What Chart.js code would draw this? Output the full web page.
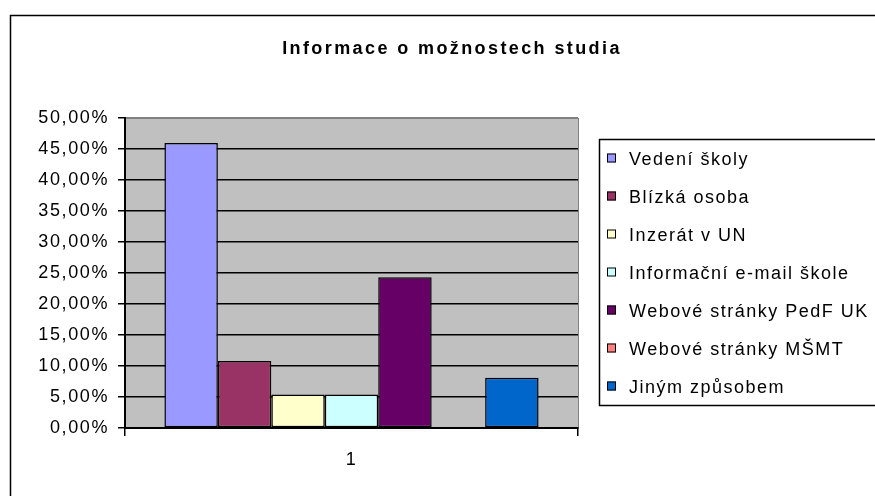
<!DOCTYPE html>
<html><head><meta charset="utf-8">
<script src="https://cdn.jsdelivr.net/npm/chart.js@4"></script>
<style>html,body{margin:0;padding:0;background:#fff}canvas{display:block}</style>
</head><body>
<canvas id="c" width="875" height="496"></canvas>
<script>
const chartTitle = 'Informace o možnostech studia';
const categories = ['1'];
const seriesNames = ['Vedení školy','Blízká osoba','Inzerát v UN','Informační e-mail škole','Webové stránky PedF UK','Webové stránky MŠMT','Jiným způsobem'];
const seriesValues = [45.95, 10.81, 5.41, 5.41, 24.32, 0, 8.11];
const seriesColors = ['#9999FF','#993366','#FFFFCC','#CCFFFF','#660066','#FF8080','#0066CC'];
const yTicks = [0, 5, 10, 15, 20, 25, 30, 35, 40, 45, 50];

const FAMILY = "'Liberation Sans', Arial, sans-serif";
const fmt = v => v.toFixed(2).replace('.', ',') + '%';

const frame = {
  id: 'frame',
  beforeDraw(chart) {
    const {ctx, chartArea: a} = chart;
    ctx.save();
    ctx.fillStyle = '#fff';
    ctx.fillRect(0, 0, chart.width, chart.height);
    ctx.strokeStyle = '#000';
    ctx.lineWidth = 1.5;
    ctx.strokeRect(10.5, 15.5, 1000, 1000);
    ctx.fillStyle = '#C0C0C0';
    ctx.fillRect(a.left, a.top, a.right - a.left, a.bottom - a.top);
    ctx.strokeStyle = '#808080';
    ctx.lineWidth = 1;
    ctx.strokeRect(a.left + 0.5, a.top + 0.5, a.right - a.left, a.bottom - a.top);
    ctx.restore();
    ctx.letterSpacing = '1.6px';
  },
  afterDraw(chart) {
    const {ctx, chartArea: a} = chart;
    ctx.save();
    // title
    ctx.letterSpacing = '2.4px';
    ctx.font = 'bold 18px ' + FAMILY;
    ctx.fillStyle = '#000';
    ctx.textAlign = 'center';
    ctx.textBaseline = 'middle';
    ctx.fillText(chartTitle, 452, 49);
    // legend
    const lx = a.right + 21, ly = 139;
    ctx.letterSpacing = '1.5px';
    ctx.strokeStyle = '#000';
    ctx.lineWidth = 1.5;
    ctx.strokeRect(lx + 0.5, ly + 0.5, 400, 266);
    ctx.font = '18px ' + FAMILY;
    ctx.textAlign = 'left';
    ctx.textBaseline = 'alphabetic';
    chart.data.datasets.forEach((ds, i) => {
      const cy = ly + 19 + i * 38;
      ctx.fillStyle = ds.backgroundColor;
      ctx.fillRect(lx + 8, cy - 4.5, 9, 9);
      ctx.lineWidth = 1;
      ctx.strokeStyle = '#000';
      ctx.strokeRect(lx + 8.5, cy - 4, 8, 8);
      ctx.fillStyle = '#000';
      ctx.fillText(ds.label, lx + 30, cy + 7);
    });
    ctx.restore();
  }
};

new Chart(document.getElementById('c'), {
  type: 'bar',
  data: {
    labels: categories,
    datasets: seriesNames.map((name, i) => ({
      label: name,
      data: [seriesValues[i]],
      backgroundColor: seriesColors[i],
      borderColor: '#000',
      borderWidth: 1.5,
      borderSkipped: false
    }))
  },
  options: {
    responsive: false,
    animation: false,
    devicePixelRatio: 1,
    layout: { padding: { top: 118, right: 297, left: 0, bottom: 0 } },
    datasets: { bar: { barPercentage: 1, categoryPercentage: 0.826 } },
    plugins: { legend: { display: false }, title: { display: false }, tooltip: { enabled: false } },
    scales: {
      x: {
        grid: { offset: true, drawOnChartArea: false, color: '#000', tickLength: 8, lineWidth: 1.5 },
        border: { color: '#000', width: 2 },
        ticks: { color: '#000', font: { family: FAMILY, size: 18 }, padding: 13 },
        afterFit(s) { s.height = 68; }
      },
      y: {
        min: 0, max: 50,
        afterBuildTicks(s) { s.ticks = yTicks.map(v => ({ value: v })); },
        grid: {
          color: c => (c.tick && c.tick.value === 50) ? '#808080' : '#000',
          tickColor: '#000',
          tickLength: 7,
          lineWidth: 1.5
        },
        border: { color: '#000', width: 2 },
        ticks: { color: '#000', font: { family: FAMILY, size: 18 }, padding: 9, callback: v => fmt(v) },
        afterFit(s) { s.width = 125; }
      }
    }
  },
  plugins: [frame]
});
</script>
</body></html>
